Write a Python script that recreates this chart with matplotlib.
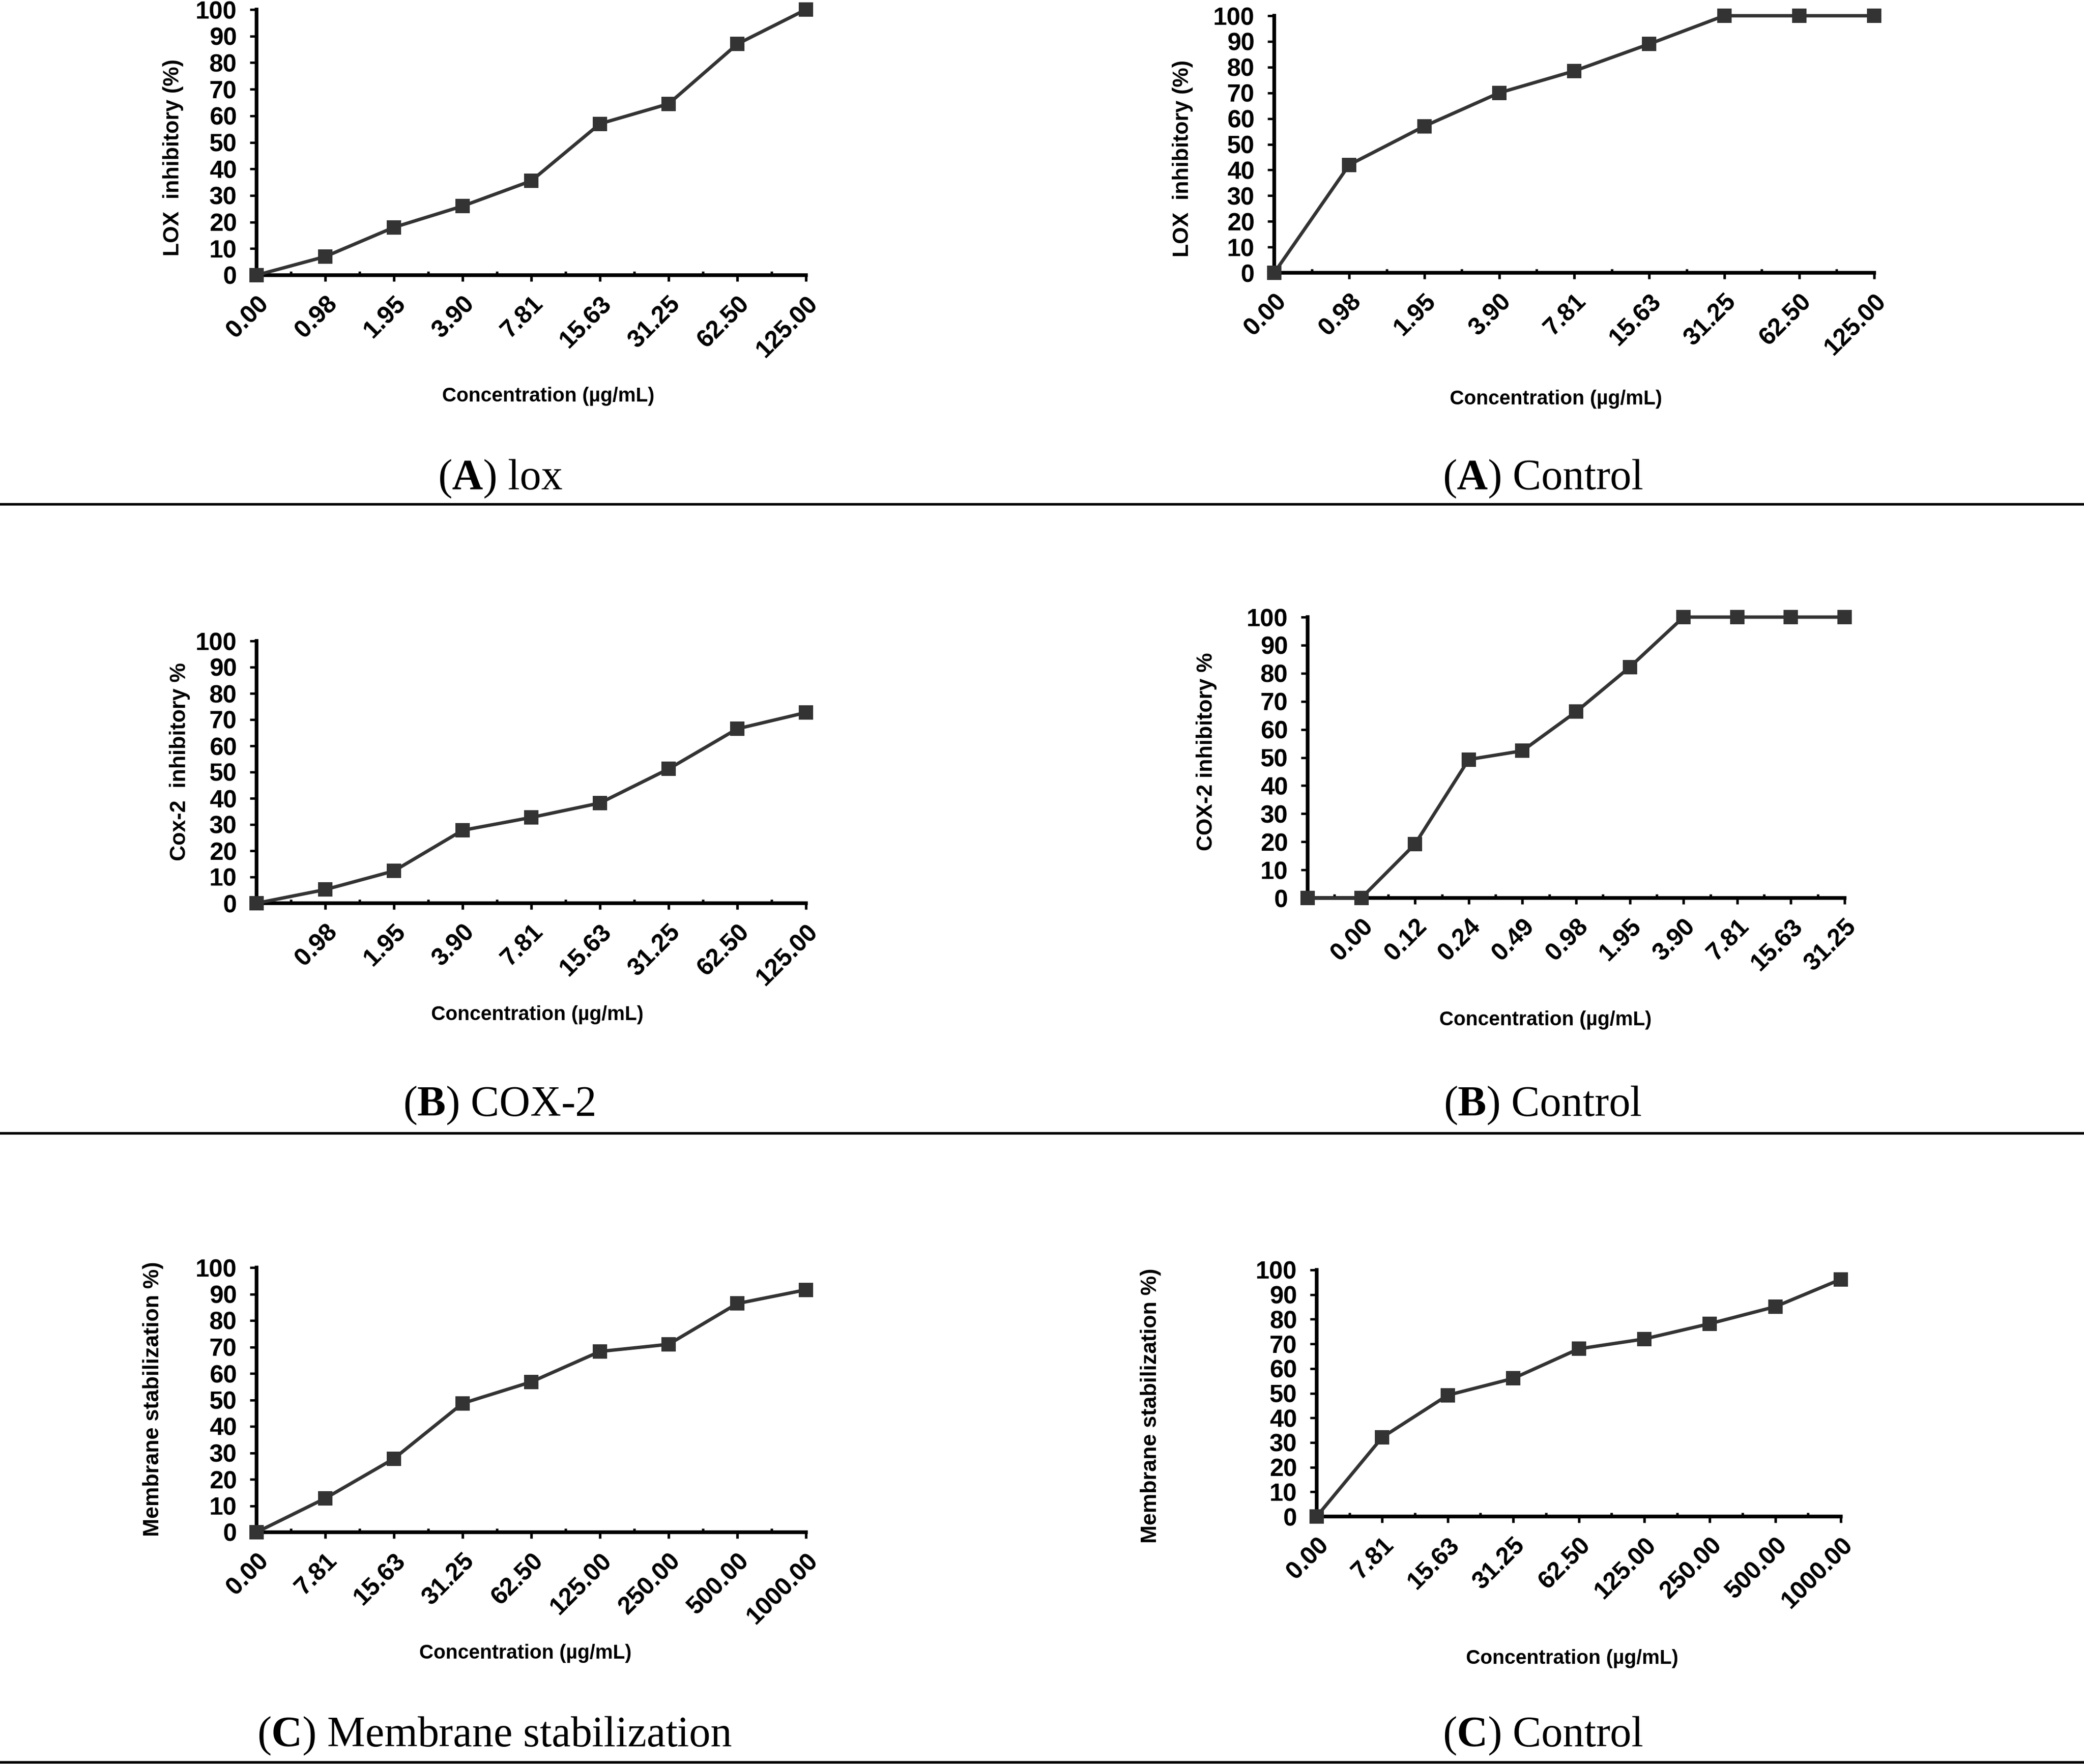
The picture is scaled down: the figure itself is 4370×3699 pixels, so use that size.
import matplotlib
matplotlib.use('Agg')
import matplotlib.pyplot as plt
from matplotlib.lines import Line2D
from matplotlib.ticker import MultipleLocator, FixedLocator

plt.rcParams['font.family'] = ['Liberation Sans', 'DejaVu Sans']
plt.rcParams['mathtext.fontset'] = 'custom'
plt.rcParams['mathtext.rm'] = 'Liberation Serif'
plt.rcParams['mathtext.bf'] = 'Liberation Serif:bold'

# data
lox_labels = ['0.00', '0.98', '1.95', '3.90', '7.81', '15.63', '31.25', '62.50', '125.00']
lox_values = [0, 7, 18, 26, 35.5, 57, 64.5, 87, 100]
lox_ctrl_values = [0, 42, 57, 70, 78.5, 89, 100, 100, 100]

cox_labels = ['', '0.98', '1.95', '3.90', '7.81', '15.63', '31.25', '62.50', '125.00']
cox_values = [0, 5.2, 12.3, 27.8, 32.7, 38.2, 51.2, 66.5, 72.7]
cox_ctrl_labels = ['', '0.00', '0.12', '0.24', '0.49', '0.98', '1.95', '3.90', '7.81', '15.63', '31.25']
cox_ctrl_values = [0, 0, 19.2, 49.3, 52.4, 66.3, 82.2, 100, 100, 100, 100]

mem_labels = ['0.00', '7.81', '15.63', '31.25', '62.50', '125.00', '250.00', '500.00', '1000.00']
mem_values = [0, 12.8, 27.8, 48.7, 56.8, 68.3, 71.0, 86.4, 91.6]
mem_ctrl_values = [0, 32.1, 49.2, 56.0, 68.0, 72.0, 78.2, 85.1, 96.2]

xlabel = 'Concentration (\u00b5g/mL)'
ylabels = ['LOX  inhibitory (%)', 'LOX  inhibitory (%)',
           'Cox-2  inhibitory %', 'COX-2 inhibitory %',
           'Membrane stabilization %)', 'Membrane stabilization %)']
captions = [r'($\mathbf{A}$) lox', r'($\mathbf{A}$) Control',
            r'($\mathbf{B}$) COX-2', r'($\mathbf{B}$) Control',
            r'($\mathbf{C}$) Membrane stabilization', r'($\mathbf{C}$) Control']

W, H = 4370, 3699
fig = plt.figure(figsize=(W / 300, H / 300), dpi=300)

# axes boxes in pixels: x0, x1, y(100), y(0)
boxes = [(538, 1690, 20, 577), (2672, 3930, 33, 572),
         (538, 1690, 1344, 1894), (2742, 3868, 1294, 1883),
         (538, 1690, 2658, 3213), (2761, 3860, 2663, 3180)]
xlabel_pos = [(1150, 831), (3263, 837), (1127, 2128), (3241, 2139), (1102, 3467), (3297, 3478)]
ylabel_pos = [(363, 330), (2480, 332), (377, 1597), (2530, 1576), (321, 2934), (2413, 2948)]
caption_pos = [(1049, 1004), (3235, 1004), (1046, 2318), (3235, 2318), (1037, 3640), (3235, 3640)]
sep_y = [1057, 2376, 3695]

series = [(lox_labels, lox_values), (lox_labels, lox_ctrl_values),
          (cox_labels, cox_values), (cox_ctrl_labels, cox_ctrl_values),
          (mem_labels, mem_values), (mem_labels, mem_ctrl_values)]

for i, (labels, vals) in enumerate(series):
    x0, x1, yt, yb = boxes[i]
    ax = fig.add_axes([x0 / W, 1 - yb / H, (x1 - x0) / W, (yb - yt) / H])
    xs = list(range(len(vals)))
    ax.plot(xs, vals, color='#333333', lw=1.7, marker='s', ms=6.3, clip_on=False, zorder=3)
    ax.set_xlim(0, len(vals) - 1)
    ax.set_ylim(0, 100)
    for s in ['top', 'right']:
        ax.spines[s].set_visible(False)
    for s in ['left', 'bottom']:
        ax.spines[s].set_linewidth(1.85)
    ax.yaxis.set_major_locator(MultipleLocator(10))
    ax.set_xticks(xs)
    ax.set_xticklabels(labels, rotation=45, ha='right', va='top', rotation_mode='anchor')
    ax.xaxis.set_minor_locator(FixedLocator([x + 0.5 for x in xs[:-1]]))
    ax.tick_params(axis='x', which='major', direction='out', length=3, width=1.3, pad=5.5)
    ax.tick_params(axis='x', which='minor', direction='in', length=2, width=1.3)
    ax.tick_params(axis='y', direction='out', length=3.4, width=1.2, pad=6.5)
    for t in ax.get_xticklabels() + ax.get_yticklabels():
        t.set_fontsize(12.5)
        t.set_fontweight('bold')
    ax.set_xlabel(xlabel, fontsize=10, fontweight='bold', va='center')
    px, py = xlabel_pos[i]
    ax.xaxis.set_label_coords((px - x0) / (x1 - x0), (yb - py) / (yb - yt))
    ax.set_ylabel(ylabels[i], fontsize=11, fontweight='bold', va='center')
    lx, ly = ylabel_pos[i]
    ax.yaxis.set_label_coords((lx - x0) / (x1 - x0), (yb - ly) / (yb - yt))

    cx, cy = caption_pos[i]
    fig.text(cx / W, 1 - cy / H, captions[i], fontsize=21.5, family='Liberation Serif',
             ha='center', va='center')

for y in sep_y:
    fig.add_artist(Line2D([0, 1], [1 - y / H, 1 - y / H], color='black', lw=1.3))

fig.savefig('out.png', dpi=300)
